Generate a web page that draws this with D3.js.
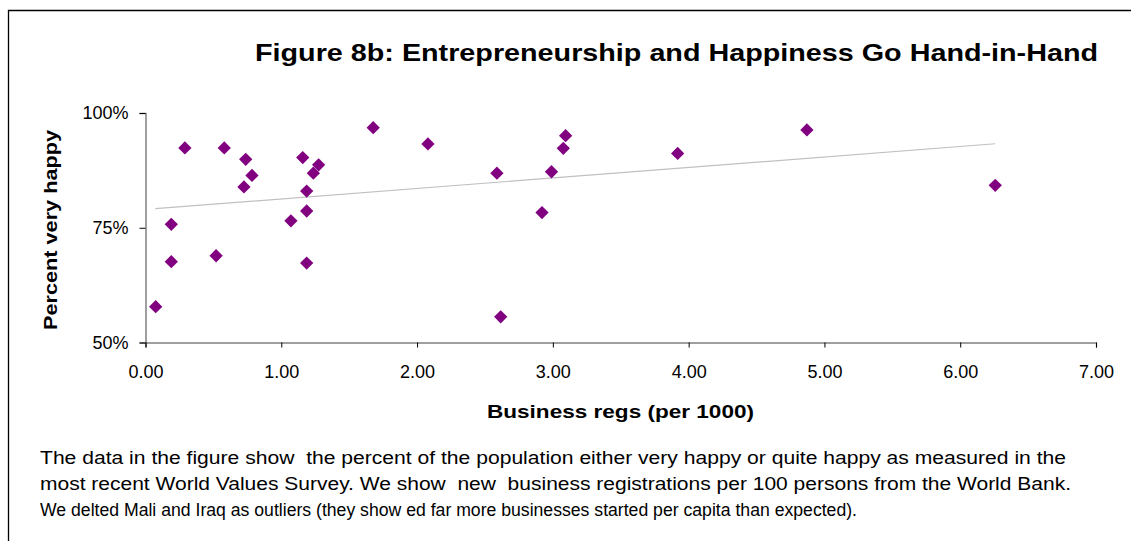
<!DOCTYPE html>
<html>
<head>
<meta charset="utf-8">
<script src="https://cdn.jsdelivr.net/npm/d3@7"></script>
<style>
  body { margin: 0; background: #fff; }
  svg { font-family: "Liberation Sans", Arial, sans-serif; }
</style>
</head>
<body>
<div id="chart"></div>
<script>
// Business registrations (per 1000) vs percent happy
const regs = [0.075, 0.19, 0.19, 0.29, 0.52, 0.58, 0.725, 0.738, 0.784, 1.071,
  1.158, 1.187, 1.187, 1.187, 1.236, 1.275, 1.677, 2.08, 2.588, 2.616,
  2.92, 2.99, 3.077, 3.094, 3.919, 4.871, 6.258];
const happy = [57.8, 67.6, 75.75, 92.4, 68.9, 92.4, 83.9, 89.9, 86.4, 76.5,
  90.3, 67.3, 78.65, 83.0, 86.9, 88.7, 96.8, 93.25, 86.9, 55.6,
  78.3, 87.2, 92.3, 95.05, 91.2, 96.3, 84.25];
// linear trend line ends
const trendX = [0.072, 6.258];
const trendY = [79.15, 93.3];
const xTicks = [0, 1, 2, 3, 4, 5, 6, 7];
const yTicks = [50, 75, 100];
const captionLines = [
  "The data in the figure show  the percent of the population either very happy or quite happy as measured in the",
  "most recent World Values Survey. We show  new  business registrations per 100 persons from the World Bank.",
  "We delted Mali and Iraq as outliers (they show ed far more businesses started per capita than expected)."
];
const captionWidths = [1026, 1031, 817];

const width = 1131, height = 541;
const margin = {left: 145.5, right: 1096, top: 113, bottom: 342.5};

const svg = d3.select("#chart").append("svg")
  .attr("width", width)
  .attr("height", height);

// outer frame
svg.append("path")
  .attr("d", "M8.5," + (height + 5) + "V10.5H" + (width + 5))
  .attr("fill", "none")
  .attr("stroke", "#000")
  .attr("stroke-width", 1.3);

svg.append("text")
  .attr("x", 255)
  .attr("y", 61)
  .attr("font-size", 24)
  .attr("font-weight", "bold")
  .attr("textLength", 843)
  .attr("lengthAdjust", "spacingAndGlyphs")
  .text("Figure 8b: Entrepreneurship and Happiness Go Hand-in-Hand");

const x = d3.scaleLinear().domain([0, 7]).range([margin.left, margin.right]);
const y = d3.scaleLinear().domain([50, 100]).range([margin.bottom, margin.top]);

// y axis
const yAxis = svg.append("g")
  .attr("transform", "translate(" + margin.left + ",0)")
  .call(d3.axisLeft(y).tickValues(yTicks).tickSize(6).tickPadding(11)
    .tickFormat(function(d) { return d + "%"; }));
yAxis.select(".domain").attr("stroke", "#808080").attr("stroke-width", 1.5);
yAxis.selectAll(".tick line").attr("stroke", "#000");
yAxis.selectAll("text").attr("font-size", 18).attr("font-family", "Liberation Sans, Arial, sans-serif").attr("fill", "#000");

// x axis
const xAxis = svg.append("g")
  .attr("transform", "translate(0," + margin.bottom + ")")
  .call(d3.axisBottom(x).tickValues(xTicks).tickSize(5).tickPadding(18)
    .tickFormat(d3.format(".2f")));
xAxis.select(".domain").attr("stroke", "#404040").attr("stroke-width", 1.2);
xAxis.selectAll(".tick line").attr("stroke", "#000");
xAxis.selectAll("text").attr("font-size", 18).attr("font-family", "Liberation Sans, Arial, sans-serif").attr("fill", "#000");

// axis titles
svg.append("text")
  .attr("x", 487)
  .attr("y", 418)
  .attr("font-size", 18)
  .attr("font-weight", "bold")
  .attr("textLength", 267)
  .attr("lengthAdjust", "spacingAndGlyphs")
  .text("Business regs (per 1000)");

svg.append("text")
  .attr("transform", "translate(57,330) rotate(-90)")
  .attr("font-size", 18)
  .attr("font-weight", "bold")
  .attr("textLength", 200)
  .attr("lengthAdjust", "spacingAndGlyphs")
  .text("Percent very happy");

// trend line
const trend = trendX.map(function(d, i) { return {x: d, y: trendY[i]}; });
svg.append("path")
  .datum(trend)
  .attr("fill", "none")
  .attr("stroke", "#c0c0c0")
  .attr("stroke-width", 1.2)
  .attr("d", d3.line().x(function(d) { return x(d.x); }).y(function(d) { return y(d.y); }));

// points
const points = regs.map(function(d, i) { return {x: d, y: happy[i]}; });
svg.append("g").selectAll("path")
  .data(points)
  .enter()
  .append("path")
  .attr("d", d3.symbol(d3.symbolSquare, 88)())
  .attr("transform", function(d) { return "translate(" + x(d.x) + "," + y(d.y) + ") rotate(45)"; })
  .attr("fill", "#800080");

// caption
svg.append("g").selectAll("text")
  .data(captionLines)
  .enter()
  .append("text")
  .attr("x", 40)
  .attr("y", function(d, i) { return 464 + i * 26; })
  .attr("font-size", 17.5)
  .attr("textLength", function(d, i) { return captionWidths[i]; })
  .attr("lengthAdjust", "spacingAndGlyphs")
  .style("white-space", "pre")
  .text(function(d) { return d; });
</script>
</body>
</html>
